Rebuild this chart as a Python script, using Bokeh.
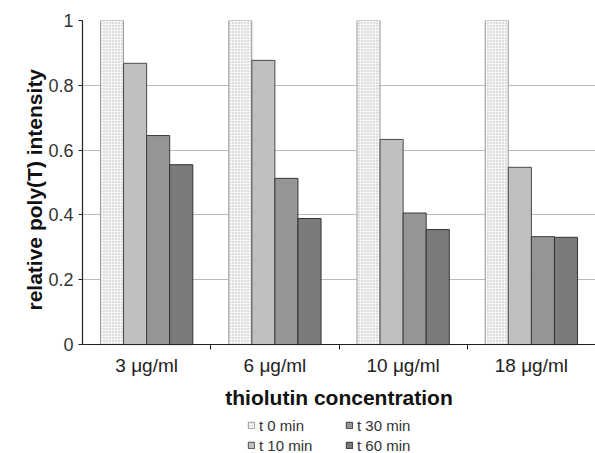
from bokeh.plotting import figure
from bokeh.models import FixedTicker, Legend, LegendItem, Range1d, Title
from bokeh.embed import file_html
from bokeh.resources import INLINE
from bokeh.transform import dodge

categories = ["3 μg/ml", "6 μg/ml", "10 μg/ml", "18 μg/ml"]
series_names = ["t 0 min", "t 10 min", "t 30 min", "t 60 min"]
t0 = [1.0, 1.0, 1.0, 1.0]
t10 = [0.868, 0.877, 0.633, 0.547]
t30 = [0.645, 0.513, 0.406, 0.333]
t60 = [0.555, 0.389, 0.355, 0.331]
y_ticks = [0, 0.2, 0.4, 0.6, 0.8, 1.0]

xc = [i + 0.5 for i in range(len(categories))]
data = dict(x=xc, t0=t0, t10=t10, t30=t30, t60=t60)

p = figure(width=595, height=453, output_backend="svg", toolbar_location=None,
           x_range=Range1d(0, 4.0), y_range=Range1d(-0.336, 1.0),
           min_border_left=82, min_border_top=20, min_border_right=0,
           min_border_bottom=0)
p.outline_line_color = None
p.background_fill_color = "white"
p.border_fill_color = "white"

fills = ["#f6f6f6", "#c0c0c0", "#959595", "#7b7b7b"]
lines = ["#9a9a9a", "#4a4a4a", "#3a3a3a", "#333333"]
offs = [-0.27, -0.09, 0.09, 0.27]
keys = ["t0", "t10", "t30", "t60"]
rends = []
for k, f, lc, o in zip(keys, fills, lines, offs):
    kw = {}
    if k == "t0":
        kw = dict(hatch_pattern="dot", hatch_color="#b8b8b8", hatch_scale=3, hatch_weight=0.5)
    r = p.vbar(x=dodge("x", o), top=k, width=0.18, source=data, fill_color=f,
               line_color=lc, line_width=1, **kw)
    rends.append(r)

# axes
p.xaxis.fixed_location = 0
p.xaxis.ticker = FixedTicker(ticks=xc, minor_ticks=[1, 2, 3])
p.xaxis.major_label_overrides = {x: c for x, c in zip(xc, categories)}
p.xaxis.major_tick_out = 0
p.xaxis.major_tick_in = 0
p.xaxis.minor_tick_out = 5
p.xaxis.minor_tick_in = 0
p.xaxis.minor_tick_line_color = "#222222"
p.xaxis.axis_line_color = "#222222"
p.xaxis.axis_line_width = 1.2
p.xaxis.major_label_standoff = 5
p.xaxis.major_label_text_font = "Liberation Sans"
p.xaxis.major_label_text_font_size = "19px"
p.xaxis.major_label_text_color = "#222222"
p.xaxis.axis_label = "thiolutin concentration"
p.xaxis.axis_label_text_font = "Liberation Sans"
p.xaxis.axis_label_text_font_style = "bold"
p.xaxis.axis_label_text_font_size = "21px"
p.xaxis.axis_label_text_color = "#111111"
p.xaxis.axis_label_standoff = 7

p.yaxis.bounds = (0, 1)
p.yaxis.ticker = FixedTicker(ticks=y_ticks, minor_ticks=[])
p.yaxis.major_label_overrides = {0: "0", 1: "1", 1.0: "1"}
p.yaxis.major_tick_out = 4
p.yaxis.major_tick_in = 0
p.yaxis.major_tick_line_color = "#222222"
p.yaxis.axis_line_color = "#222222"
p.yaxis.axis_line_width = 1.2
p.yaxis.major_label_standoff = 5
p.yaxis.major_label_text_font = "Liberation Sans"
p.yaxis.major_label_text_font_size = "18px"
p.yaxis.major_label_text_color = "#333333"

ytitle = Title(text="relative poly(T) intensity", align="left", offset=143,
               text_font="Liberation Sans", text_font_style="bold",
               text_font_size="21px", text_color="#111111", standoff=0)
p.add_layout(ytitle, "left")

p.xgrid.grid_line_color = None
p.ygrid.grid_line_color = "#777777"
p.ygrid.grid_line_dash = "1 1"
p.ygrid.grid_line_width = 1
p.ygrid.bounds = (0.1, 1)

order = [0, 2, 1, 3]
items = [LegendItem(label=series_names[i], renderers=[rends[i]]) for i in order]
legend = Legend(items=items, location=(165, -2), orientation="horizontal", nrows=2,
                glyph_width=8, glyph_height=8, label_height=20, label_width=86,
                label_standoff=4, spacing=0, padding=0, margin=0,
                border_line_color=None, background_fill_alpha=0,
                label_text_font="Liberation Sans",
                label_text_font_size="15px", label_text_color="#333333")
p.add_layout(legend, "center")

open("out.html", "w").write(file_html(p, INLINE))
